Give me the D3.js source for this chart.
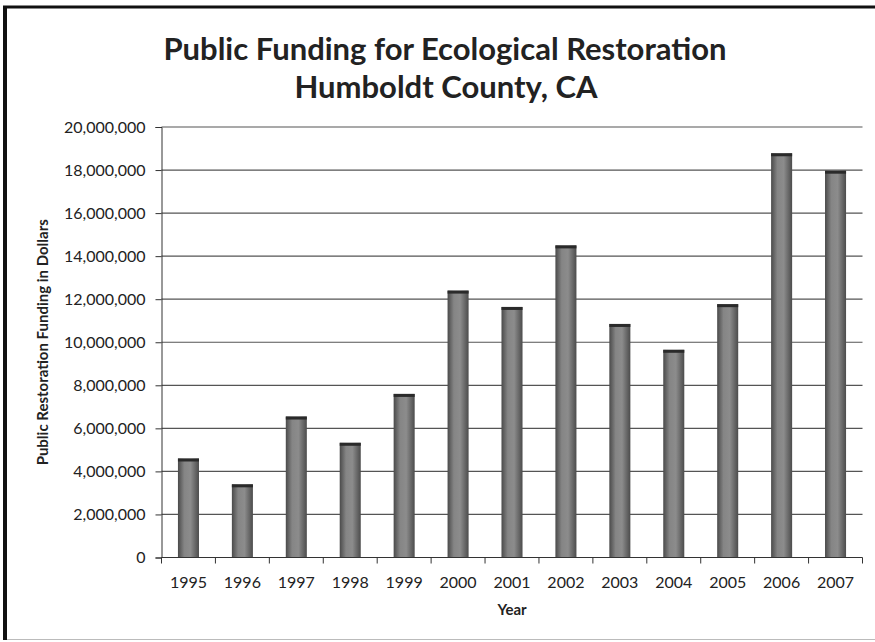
<!DOCTYPE html>
<html>
<head>
<style>
  body { margin: 0; background: #fff; }
  text { font-family: Lato, "Open Sans", sans-serif; fill: #222; }
</style>
</head>
<body>
<script src="https://d3js.org/d3.v7.min.js"></script>
<script>

  // values (dollars)
  var years = ["1995", "1996", "1997", "1998", "1999", "2000", "2001",
               "2002", "2003", "2004", "2005", "2006", "2007"];
  var funding = [4600000, 3400000, 6550000, 5330000, 7600000, 12400000, 11640000,
                 14500000, 10850000, 9650000, 11770000, 18780000, 17970000];
  var yTicks = [0, 2000000, 4000000, 6000000, 8000000, 10000000,
                12000000, 14000000, 16000000, 18000000, 20000000];

  var width = 875;
  var height = 642;
  var plotLeft = 161.5, plotRight = 862.5, plotTop = 127, plotBottom = 557.5;

  var svg = d3.select("body")
      .append("svg")
      .attr("width", width)
      .attr("height", height);

  // bar shading
  var defs = svg.append("defs");
  var grad = defs.append("linearGradient")
      .attr("id", "barfill")
      .attr("x1", "0%").attr("x2", "100%");
  grad.append("stop").attr("offset", "0%").attr("stop-color", "#4a4a4a");
  grad.append("stop").attr("offset", "30%").attr("stop-color", "#858585");
  grad.append("stop").attr("offset", "60%").attr("stop-color", "#8c8c8c");
  grad.append("stop").attr("offset", "100%").attr("stop-color", "#4c4c4c");

  // frame around the chart
  svg.append("line").attr("x1", 5).attr("x2", 5).attr("y1", 6).attr("y2", 640)
      .attr("stroke", "#111").attr("stroke-width", 4);
  svg.append("line").attr("x1", 3).attr("x2", width).attr("y1", 7).attr("y2", 7)
      .attr("stroke", "#111").attr("stroke-width", 3);
  svg.append("line").attr("x1", 7).attr("x2", width).attr("y1", 639.5).attr("y2", 639.5)
      .attr("stroke", "#bbb").attr("stroke-width", 1);

  var x = d3.scaleBand()
      .domain(years)
      .range([plotLeft, plotRight])
      .paddingInner(0.61)
      .paddingOuter(0.305);

  var y = d3.scaleLinear()
      .domain([0, 20000000])
      .range([plotBottom, plotTop]);

  // gridlines
  svg.append("g")
      .selectAll("line")
      .data(yTicks.slice(1))
      .enter()
        .append("line")
        .attr("x1", plotLeft).attr("x2", plotRight)
        .attr("y1", function (d) { return y(d); })
        .attr("y2", function (d) { return y(d); })
        .attr("stroke", "#555")
        .attr("stroke-width", 1.2);

  // bars
  var bar = svg.append("g")
      .selectAll("g")
      .data(funding)
      .enter()
        .append("g");

  bar.append("rect")
      .attr("x", function (d, i) { return x(years[i]); })
      .attr("y", function (d) { return y(d); })
      .attr("width", x.bandwidth())
      .attr("height", function (d) { return y(0) - y(d); })
      .attr("fill", "url(#barfill)");

  bar.append("rect")
      .attr("x", function (d, i) { return x(years[i]); })
      .attr("y", function (d) { return y(d); })
      .attr("width", x.bandwidth())
      .attr("height", 3)
      .attr("fill", "#2a2a2a");

  // y axis
  var yAxis = svg.append("g")
      .attr("transform", "translate(" + plotLeft + ",0)")
      .call(d3.axisLeft(y)
        .tickValues(yTicks)
        .tickSize(6)
        .tickPadding(10)
        .tickFormat(d3.format(",")));
  yAxis.select(".domain").attr("stroke", "#333");
  yAxis.selectAll(".tick line").attr("stroke", "#333");
  yAxis.selectAll("text")
      .style("font-size", "16px")
      .attr("fill", "#222");

  // x axis: ticks sit between categories
  var xAxis = svg.append("g")
      .attr("transform", "translate(0," + plotBottom + ")");
  xAxis.append("line")
      .attr("x1", plotLeft).attr("x2", plotRight)
      .attr("stroke", "#333");
  xAxis.selectAll(".xtick")
      .data(years.concat(["end"]))
      .enter()
        .append("line")
        .attr("class", "xtick")
        .attr("x1", function (d, i) { return plotLeft + i * x.step(); })
        .attr("x2", function (d, i) { return plotLeft + i * x.step(); })
        .attr("y1", 0).attr("y2", 6)
        .attr("stroke", "#333");
  xAxis.selectAll(".xlabel")
      .data(years)
      .enter()
        .append("text")
        .attr("class", "xlabel")
        .attr("x", function (d) { return x(d) + x.bandwidth() / 2; })
        .attr("y", 30.5)
        .attr("text-anchor", "middle")
        .style("font-size", "16px")
        .text(function (d) { return d; });

  // titles
  svg.append("text")
      .attr("x", 445).attr("y", 60)
      .attr("text-anchor", "middle")
      .style("font-size", "31px")
      .style("font-weight", "bold")
      .text("Public Funding for Ecological Restoration");
  svg.append("text")
      .attr("x", 446).attr("y", 98)
      .attr("text-anchor", "middle")
      .style("font-size", "31px")
      .style("font-weight", "bold")
      .text("Humboldt County, CA");

  svg.append("text")
      .attr("x", (plotLeft + plotRight) / 2).attr("y", 615)
      .attr("text-anchor", "middle")
      .style("font-size", "15px")
      .style("font-weight", "bold")
      .text("Year");

  svg.append("text")
      .attr("transform", "translate(48," + (plotTop + plotBottom) / 2 + ") rotate(-90)")
      .attr("text-anchor", "middle")
      .style("font-size", "15px")
      .style("font-weight", "bold")
      .text("Public Restoration Funding in Dollars");

</script>
</body>
</html>
